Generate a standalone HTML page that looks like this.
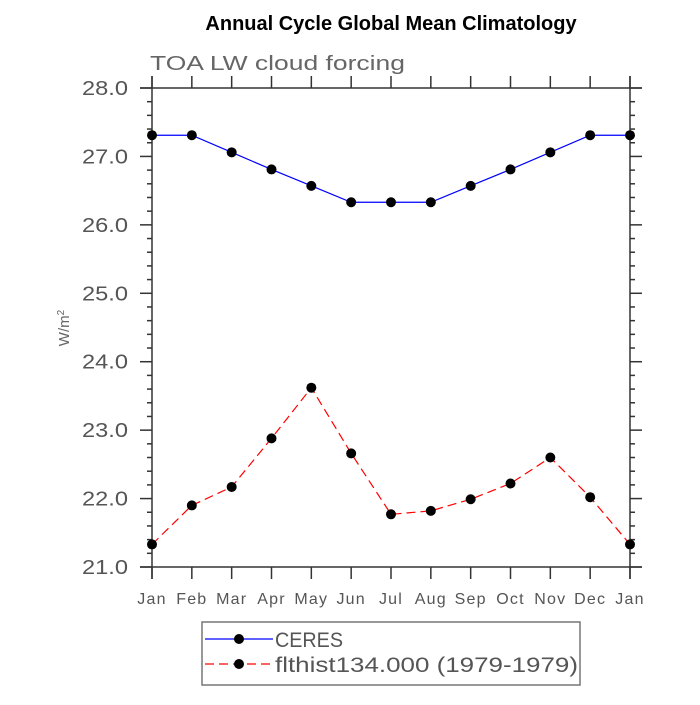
<!DOCTYPE html>
<html><head><meta charset="utf-8"><style>
body{margin:0;background:#fff;}
svg text{font-family:"Liberation Sans",sans-serif;}
</style></head><body>
<svg id="chart" width="700" height="700">
<text x="391" y="30" text-anchor="middle" font-size="20" font-weight="bold">Annual Cycle Global Mean Climatology</text>
<text x="150" y="70" font-size="20" fill="#666" textLength="255" lengthAdjust="spacingAndGlyphs">TOA LW cloud forcing</text>
<text transform="translate(69,328) rotate(-90)" text-anchor="middle" font-size="15" fill="#666">W/m<tspan dy="-5" font-size="10">2</tspan></text>
<g id="axes"></g><g id="series"></g>
<g>
<rect x="202" y="622" width="378" height="63" fill="none" stroke="#777" stroke-width="1.5"/>
<line x1="205" y1="639" x2="273" y2="639" stroke="#00f" stroke-width="1.2"/>
<circle cx="239" cy="639" r="5" fill="#000"/>
<text x="275" y="647" font-size="21" fill="#555" textLength="68" lengthAdjust="spacingAndGlyphs">CERES</text>
<line x1="205" y1="664" x2="273" y2="664" stroke="#f00" stroke-width="1.2" stroke-dasharray="9,5"/>
<circle cx="239" cy="664" r="5" fill="#000"/>
<text x="275" y="672" font-size="21" fill="#555" textLength="303" lengthAdjust="spacingAndGlyphs">flthist134.000 (1979-1979)</text>
</g>
</svg>
<script>
const months=["Jan","Feb","Mar","Apr","May","Jun","Jul","Aug","Sep","Oct","Nov","Dec","Jan"];
const ceres=[27.31,27.31,27.06,26.81,26.57,26.33,26.33,26.33,26.57,26.81,27.06,27.31,27.31];
const model=[21.33,21.90,22.17,22.88,23.62,22.66,21.77,21.82,21.99,22.22,22.60,22.02,21.33];
const yTicks=[21,22,23,24,25,26,27,28];
const yTickLabels=["21.0","22.0","23.0","24.0","25.0","26.0","27.0","28.0"];
const X0=152,X1=630,Y0=567,Y1=88,ymin=21,ymax=28;
const xs=i=>X0+(X1-X0)*i/(months.length-1);
const ys=v=>Y0-(Y0-Y1)*(v-ymin)/(ymax-ymin);
const NS="http://www.w3.org/2000/svg";
function mk(tag,attrs,parent){const e=document.createElementNS(NS,tag);for(const k in attrs)e.setAttribute(k,attrs[k]);parent.appendChild(e);return e;}
const ax=document.getElementById('axes'),se=document.getElementById('series');
const st={stroke:"#333","stroke-width":1.5};
const f=mk('g',{},ax);


mk('line',Object.assign({x1:140,y1:Y1,x2:642,y2:Y1},st),f);
mk('line',Object.assign({x1:140,y1:Y0,x2:642,y2:Y0},st),f);
mk('line',Object.assign({x1:X0,y1:76,x2:X0,y2:579},st),f);
mk('line',Object.assign({x1:X1,y1:76,x2:X1,y2:579},st),f);
months.forEach((m,i)=>{const x=xs(i);
mk('line',Object.assign({x1:x,y1:Y1-12,x2:x,y2:Y1},st),f);
mk('line',Object.assign({x1:x,y1:Y0,x2:x,y2:Y0+12},st),f);
const t=mk('text',{x:x,y:604,"text-anchor":"middle","font-size":16,fill:"#555","letter-spacing":"1.2"},ax);t.textContent=m;

});
for(let v=ymin;v<=ymax+1e-6;v+=0.2){const y=ys(v);const major=Math.abs(v-Math.round(v))<1e-6;const L=major?12:5;
mk('line',Object.assign({x1:X0-L,y1:y,x2:X0,y2:y},st),f);
mk('line',Object.assign({x1:X1,y1:y,x2:X1+L,y2:y},st),f);}
yTicks.forEach((v,i)=>{const t=mk('text',{x:82,y:ys(v)+7,"font-size":20,fill:"#555",textLength:46,lengthAdjust:"spacingAndGlyphs"},ax);t.textContent=yTickLabels[i];

});
function draw(data,color,dash,name){const g=mk('g',{},se);


mk('polyline',{points:data.map((v,i)=>xs(i)+","+ys(v)).join(" "),fill:"none",stroke:color,"stroke-width":1.2,"stroke-dasharray":dash},g);
data.forEach((v,i)=>{const c=mk('circle',{cx:xs(i),cy:ys(v),r:5,fill:"#000"},g);

});}
draw(ceres,"#00f","none","ceres-series");
draw(model,"#f00","9,5","model-series");
</script>
</body></html>
